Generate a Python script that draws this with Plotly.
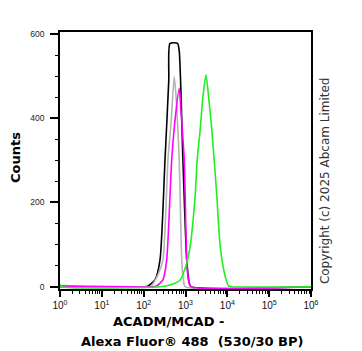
import plotly.graph_objects as go

# ---- data (x as log10 of fluorescence, y as counts) ----
black_logx = [0.0, 2.03, 2.105, 2.27, 2.39, 2.51, 2.60, 2.63, 2.81, 2.85, 2.94, 3.03, 3.09, 3.13, 6.0]
black_y    = [0,   0,    2,     16,   63,   301,  490,  578,  578,  560,  295,  63,   9,    0,    0]

gray_logx = [0.0, 2.15, 2.20, 2.34, 2.46, 2.58, 2.66, 2.73, 2.78, 2.85, 2.91, 2.95, 2.99, 6.0]
gray_y    = [0,   0,    4,    28,   63,   301,  396,  499,  443,  301,  63,   16,   0,    0]

magenta_logx = [0.0, 2.20, 2.31, 2.46, 2.55, 2.67, 2.75, 2.85, 2.89, 2.97, 3.03, 3.07, 3.13, 6.0]
magenta_y    = [2,   0,    2,    16,   63,   301,  396,  471,  420,  301,  63,   16,   0,    0]

green_logx = [0.0, 0.05, 2.39, 2.63, 2.87, 3.03, 3.11, 3.23, 3.28, 3.35, 3.42, 3.49, 3.56, 3.63, 3.75, 3.83, 3.95, 4.03, 4.11, 6.0]
green_y    = [6,   0,    0,    4,    16,   56,   95,   214,  301,  372,  455,  503,  443,  372,  214,  95,   24,   2,    0,    0]

x_tick_vals = [1, 10, 100, 1000, 10000, 100000, 1000000]
x_tick_text = ["10<sup>0</sup>", "10<sup>1</sup>", "10<sup>2</sup>", "10<sup>3</sup>",
               "10<sup>4</sup>", "10<sup>5</sup>", "10<sup>6</sup>"]
y_tick_vals = [0, 200, 400, 600]

x_title_line1 = "ACADM/MCAD -"
x_title_line2 = "Alexa Fluor® 488\u00a0\u00a0(530/30 BP)"
y_title = "Counts"
copyright_text = "Copyright (c) 2025 Abcam Limited"

series = [
    (black_logx, black_y, "#000000"),
    (gray_logx, gray_y, "#b4b4b4"),
    (magenta_logx, magenta_y, "#ff00ff"),
    (green_logx, green_y, "#22ee22"),
]

fig = go.Figure()
for lx, ys, col in series:
    fig.add_trace(go.Scatter(
        x=[10 ** v for v in lx], y=ys, mode="lines",
        line=dict(color=col, width=1.6, shape="spline", smoothing=0.6),
        showlegend=False, hoverinfo="skip"))

minor_x = [k * 10 ** d for d in range(0, 6) for k in range(2, 10)]

fig.update_layout(
    width=362, height=351,
    margin=dict(l=60, r=51, t=32, b=62),
    paper_bgcolor="white", plot_bgcolor="white",
    font=dict(family="Liberation Sans, Arial, sans-serif", color="#111"),
    xaxis=dict(
        type="log", range=[0, 6.0],
        tickmode="array", tickvals=x_tick_vals, ticktext=x_tick_text,
        ticks="outside", ticklen=6, tickwidth=1.5, tickcolor="black",
        minor=dict(tickmode="array", tickvals=minor_x, ticks="outside", ticklen=3,
                   tickwidth=1, tickcolor="black", showgrid=False),
        showline=True, linecolor="black", linewidth=1.5, mirror=True,
        showgrid=False, zeroline=False,
        tickfont=dict(size=10, family="Liberation Sans, Arial, sans-serif", color="#111"),
    ),
    yaxis=dict(
        range=[-5.5, 605],
        tickmode="array", tickvals=y_tick_vals,
        ticks="outside", ticklen=8, tickwidth=1.5, tickcolor="black",
        minor=dict(dtick=50, ticks="outside", ticklen=3, tickwidth=1,
                   tickcolor="black", showgrid=False),
        showline=True, linecolor="black", linewidth=1.5, mirror=True,
        showgrid=False, zeroline=False,
        ticklabelstandoff=4,
        tickfont=dict(size=8.5, family="Liberation Sans, Arial, sans-serif", color="#222"),
    ),
)

fig.add_annotation(text=y_title, xref="paper", yref="paper", x=-0.175, y=0.51,
                   textangle=-90, showarrow=False, xanchor="center", yanchor="middle",
                   font=dict(family="DejaVu Sans", size=13, color="black", weight="bold"))
fig.add_annotation(text=x_title_line1, xref="paper", yref="paper", x=0.434, y=-0.125,
                   showarrow=False, xanchor="center", yanchor="middle",
                   font=dict(family="DejaVu Sans", size=13, color="black", weight="bold"))
fig.add_annotation(text=x_title_line2, xref="paper", yref="paper", x=0.526, y=-0.205,
                   showarrow=False, xanchor="center", yanchor="middle",
                   font=dict(family="DejaVu Sans", size=13, color="black", weight="bold"))
fig.add_annotation(text=copyright_text, xref="paper", yref="paper", x=1.056, y=0.42,
                   textangle=-90, showarrow=False, xanchor="center", yanchor="middle",
                   font=dict(family="DejaVu Sans", size=12, color="#333"))

fig.write_html("out.html")
